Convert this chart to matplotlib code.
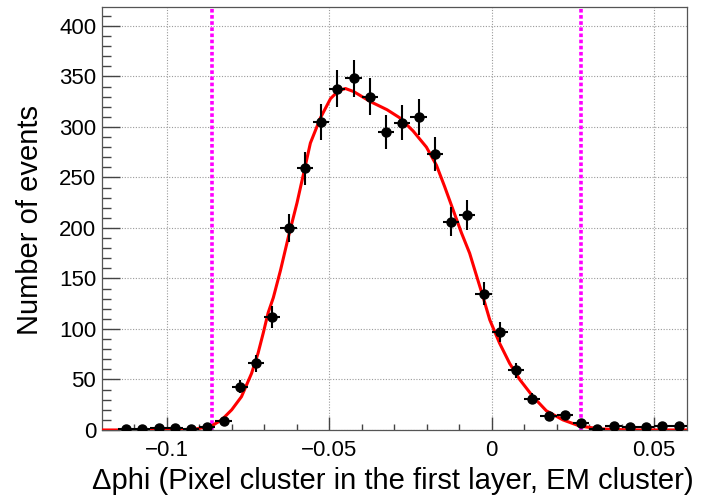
import matplotlib
matplotlib.use("Agg")
import matplotlib.pyplot as plt
import numpy as np

plt.rcParams["font.family"] = ["Liberation Sans", "DejaVu Sans"]

# histogram bins (centres, width 0.005) and counts
bin_centers = [
    -0.1125, -0.1075, -0.1025, -0.0975, -0.0925, -0.0875, -0.0825, -0.0775,
    -0.0725, -0.0675, -0.0625, -0.0575, -0.0525, -0.0475, -0.0425, -0.0375,
    -0.0325, -0.0275, -0.0225, -0.0175, -0.0125, -0.0075, -0.0025, 0.0025,
    0.0075, 0.0125, 0.0175, 0.0225, 0.0275, 0.0325, 0.0375, 0.0425,
    0.0475, 0.0525, 0.0575,
]
counts = [
    1, 1, 2, 2, 1, 3, 9, 43,
    66, 112, 200, 259, 305, 338, 348, 330,
    295, 304, 310, 273, 206, 213, 135, 97,
    59, 31, 14, 15, 7, 1, 4, 3,
    3, 4, 4,
]
bin_half_width = 0.0025

# fit curve
fit_x = [
    -0.1200, -0.1050, -0.0960, -0.0913, -0.0862, -0.0831, -0.0800, -0.0770,
    -0.0739, -0.0719, -0.0703, -0.0688, -0.0672, -0.0650, -0.0625, -0.0599,
    -0.0583, -0.0558, -0.0527, -0.0496, -0.0471, -0.0450, -0.0425, -0.0373,
    -0.0322, -0.0283, -0.0242, -0.0201, -0.0170, -0.0145, -0.0119, -0.0093,
    -0.0068, -0.0049, -0.0027, -0.0006, 0.0024, 0.0055, 0.0086, 0.0127,
    0.0168, 0.0219, 0.0270, 0.0301, 0.0340, 0.0400, 0.0456, 0.0600,
]
fit_y = [
    0, 0, 0.3, 0.8, 4, 10, 20, 33,
    56, 76, 96, 116, 131, 158, 192, 225,
    248, 284, 309, 328, 336, 338, 335, 325,
    317, 309, 296, 280, 262, 241, 218, 195,
    175, 155, 132, 109, 86, 66, 50, 33,
    19, 10, 4, 2.5, 1, 0.3, 0, 0,
]

# selection window
cut_lo, cut_hi = -0.086, 0.0275

x_ticks = [-0.1, -0.05, 0.0, 0.05]
x_tick_labels = ["\u22120.1", "\u22120.05", "0", "0.05"]
y_ticks = list(range(0, 401, 50))

fig = plt.figure(figsize=(7.06, 4.96), dpi=100)
ax = fig.add_axes([0.1441, 0.1331, 0.8286, 0.8534])

ax.set_xlim(-0.12, 0.06)
ax.set_ylim(0, 419)

ax.set_xticks(x_ticks)
ax.set_xticklabels(x_tick_labels)
ax.set_xticks(np.arange(-0.11, 0.06, 0.01), minor=True)
ax.set_yticks(y_ticks)
ax.set_yticks(range(0, 411, 10), minor=True)

ax.tick_params(axis="both", which="both", direction="in", color="#444444",
               top=False, right=False, labelsize=16)
ax.tick_params(axis="y", which="major", length=12.7, width=1.0, pad=4)
ax.tick_params(axis="y", which="minor", length=6.3, width=1.0)
ax.tick_params(axis="x", which="major", length=9.1, width=1.0, pad=7)
ax.tick_params(axis="x", which="minor", length=4.6, width=1.0)

ax.grid(True, which="major", color="#9a9a9a", linestyle=(0, (1, 1.5)), linewidth=0.8)
ax.set_axisbelow(True)

for sp in ax.spines.values():
    sp.set_color("#555555")
    sp.set_linewidth(0.9)

for xc in (cut_lo, cut_hi):
    ax.axvline(xc, color="#ff00ff", linewidth=2.6, linestyle=(0, (1.0, 0.7)), zorder=2)

ax.plot(fit_x, fit_y, color="#ff0000", linewidth=2.2, zorder=3,
        solid_joinstyle="round")

y_err = np.sqrt(counts)
ax.errorbar(bin_centers, counts, xerr=bin_half_width, yerr=y_err, fmt="o",
            color="black", markersize=6.5, elinewidth=1.5, capsize=0, zorder=4)

fig.text(0.982, 0.014, "\u0394phi (Pixel cluster in the first layer, EM cluster)",
         ha="right", va="baseline", fontsize=21)
fig.text(0.043, 0.556, "Number of events", rotation=90,
         ha="center", va="center", fontsize=21)

fig.savefig("out.png", dpi=100)
